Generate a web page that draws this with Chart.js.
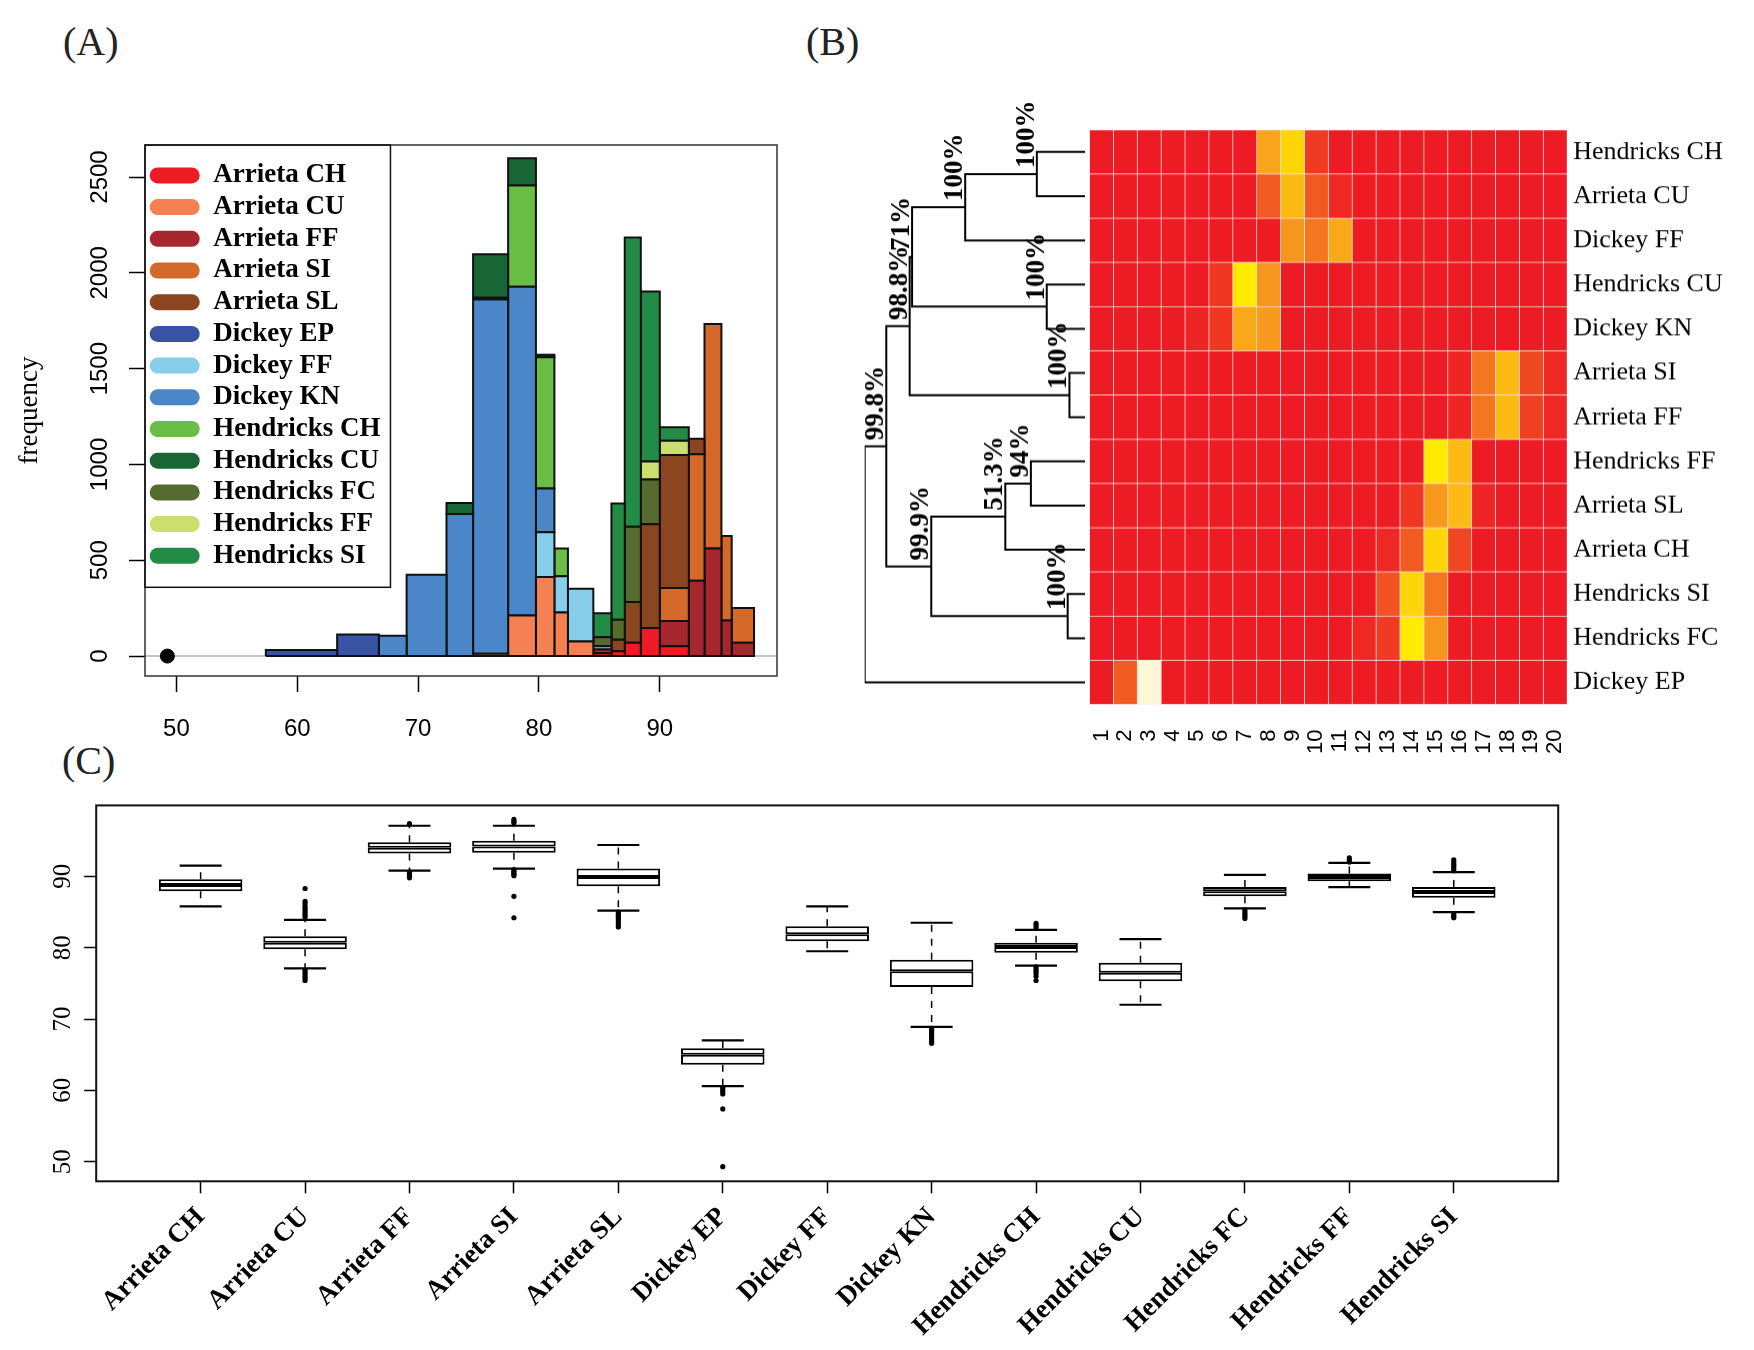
<!DOCTYPE html>
<html>
<head>
<meta charset="utf-8">
<script src="https://cdn.jsdelivr.net/npm/chart.js@4.4.0/dist/chart.umd.min.js"></script>
<style>
  body { margin: 0; background: #fff; width: 1754px; height: 1350px; position: relative; overflow: hidden; }
  .panel { position: absolute; }
  .tag { position: absolute; font-family: 'Liberation Serif', 'Times New Roman', serif; font-size: 40px; line-height: 1; color: #222; }
</style>
</head>
<body>
<div class="tag" style="left:63px;top:22px">(A)</div>
<div class="tag" style="left:806px;top:22px">(B)</div>
<div class="tag" style="left:62px;top:741px">(C)</div>

<div class="panel" style="left:0;top:0;width:800px;height:760px"><canvas id="histo"></canvas></div>
<div class="panel" style="left:840px;top:100px;width:250px;height:673.6px"><canvas id="dendro"></canvas></div>
<div class="panel" style="left:1080px;top:100px;width:674px;height:673.6px"><canvas id="heat"></canvas></div>
<div class="panel" style="left:0;top:780px;width:1600px;height:570px"><canvas id="boxes"></canvas></div>

<script>
const SERIF = "'Liberation Serif', 'Times New Roman', serif";
const SANS = "'Liberation Sans', Arial, sans-serif";
Chart.defaults.color = '#000';
Chart.defaults.animation = false;
Chart.defaults.plugins.tooltip.enabled = false;

// ---- (A) pitch speed histogram ----
const pitchNames = ['Arrieta CH', 'Arrieta CU', 'Arrieta FF', 'Arrieta SI', 'Arrieta SL',
  'Dickey EP', 'Dickey FF', 'Dickey KN', 'Hendricks CH', 'Hendricks CU',
  'Hendricks FC', 'Hendricks FF', 'Hendricks SI'];
const pitchColors = ['#ed1c24', '#f58054', '#a6272d', '#d5692a', '#8b4520',
  '#3953a4', '#87ceeb', '#4a86c8', '#6abd45', '#186535',
  '#566b30', '#cbdf6d', '#228b45'];
const binEdges = [57.4, 63.3, 66.75, 69.05, 72.35, 74.55, 77.45, 79.75, 81.28, 82.4,
  84.5, 86.0, 87.1, 88.43, 90.0, 92.4, 93.7, 95.1, 95.95, 97.8];
const countsArrietaCH   = [0, 0, 0, 0, 0, 0, 0, 0, 0, 0, 15, 25, 70, 146, 51, 0, 0, 0, 0];
const countsArrietaCU   = [0, 0, 0, 0, 0, 12, 212, 412, 227, 76, 0, 0, 0, 0, 0, 0, 0, 0, 0];
const countsArrietaFF   = [0, 0, 0, 0, 0, 0, 0, 0, 0, 0, 0, 0, 0, 0, 132, 393, 561, 185, 70];
const countsArrietaSI   = [0, 0, 0, 0, 0, 0, 0, 0, 0, 0, 0, 0, 0, 0, 172, 660, 1172, 442, 181];
const countsArrietaSL   = [0, 0, 0, 0, 0, 0, 0, 0, 0, 0, 19, 60, 212, 542, 694, 81, 0, 0, 0];
const countsDickeyEP    = [32, 113, 0, 0, 0, 0, 0, 0, 0, 0, 0, 0, 0, 0, 0, 0, 0, 0, 0];
const countsDickeyFF    = [0, 0, 0, 0, 0, 0, 0, 234, 189, 275, 17, 0, 0, 0, 0, 0, 0, 0, 0];
const countsDickeyKN    = [0, 0, 106, 425, 741, 1849, 1715, 229, 0, 0, 0, 0, 0, 0, 0, 0, 0, 0, 0];
const countsHendricksCH = [0, 0, 0, 0, 0, 9, 529, 684, 145, 0, 0, 0, 0, 0, 0, 0, 0, 0, 0];
const countsHendricksCU = [0, 0, 0, 0, 58, 227, 142, 13, 0, 0, 0, 0, 0, 0, 0, 0, 0, 0, 0];
const countsHendricksFC = [0, 0, 0, 0, 0, 0, 0, 0, 0, 0, 47, 104, 393, 234, 0, 0, 0, 0, 0];
const countsHendricksFF = [0, 0, 0, 0, 0, 0, 0, 0, 0, 0, 0, 0, 0, 93, 75, 0, 0, 0, 0];
const countsHendricksSI = [0, 0, 0, 0, 0, 0, 0, 0, 0, 0, 125, 607, 1509, 888, 70, 0, 0, 0, 0];
const pitchCounts = [countsArrietaCH, countsArrietaCU, countsArrietaFF, countsArrietaSI, countsArrietaSL,
  countsDickeyEP, countsDickeyFF, countsDickeyKN, countsHendricksCH, countsHendricksCU,
  countsHendricksFC, countsHendricksFF, countsHendricksSI];
const histXTicks = [50, 60, 70, 80, 90];
const histYTicks = [0, 500, 1000, 1500, 2000, 2500];
const histOutlier = 49.25;

// ---- (B) dendrogram + heatmap ----
const heatRows = ['Hendricks CH', 'Arrieta CU', 'Dickey FF', 'Hendricks CU', 'Dickey KN',
  'Arrieta SI', 'Arrieta FF', 'Hendricks FF', 'Arrieta SL', 'Arrieta CH',
  'Hendricks SI', 'Hendricks FC', 'Dickey EP'];
const heatCols = ['1', '2', '3', '4', '5', '6', '7', '8', '9', '10',
  '11', '12', '13', '14', '15', '16', '17', '18', '19', '20'];
const heatHendricksCH = [0, 0, 0, 0, 0, 0, 0, .5, .72, .1, 0, 0, 0, 0, 0, 0, 0, 0, 0, 0];
const heatArrietaCU   = [0, 0, 0, 0, 0, 0, 0, .2, .62, .2, .04, 0, 0, 0, 0, 0, 0, 0, 0, 0];
const heatDickeyFF    = [0, 0, 0, 0, 0, 0, 0, 0, .42, .32, .52, 0, 0, 0, 0, 0, 0, 0, 0, 0];
const heatHendricksCU = [0, 0, 0, 0, 0, .09, .8, .42, 0, 0, 0, 0, 0, 0, 0, 0, 0, 0, 0, 0];
const heatDickeyKN    = [0, 0, 0, 0, .03, .09, .52, .44, 0, 0, 0, 0, 0, 0, 0, 0, 0, 0, 0, 0];
const heatArrietaSI   = [0, 0, 0, 0, 0, 0, 0, 0, 0, 0, 0, 0, 0, 0, 0, .03, .32, .62, .14, .04];
const heatArrietaFF   = [0, 0, 0, 0, 0, 0, 0, 0, 0, 0, 0, 0, 0, 0, 0, .03, .32, .62, .12, .04];
const heatHendricksFF = [0, 0, 0, 0, 0, 0, 0, 0, 0, 0, 0, 0, 0, 0, .8, .62, 0, 0, 0, 0];
const heatArrietaSL   = [0, 0, 0, 0, 0, 0, 0, 0, 0, 0, 0, 0, 0, .09, .43, .62, .03, 0, 0, 0];
const heatArrietaCH   = [0, 0, 0, 0, 0, 0, 0, 0, 0, 0, 0, 0, .04, .2, .72, .14, 0, 0, 0, 0];
const heatHendricksSI = [0, 0, 0, 0, 0, 0, 0, 0, 0, 0, 0, 0, .18, .72, .32, 0, 0, 0, 0, 0];
const heatHendricksFC = [0, 0, 0, 0, 0, 0, 0, 0, 0, 0, 0, .04, .1, .8, .42, 0, 0, 0, 0, 0];
const heatDickeyEP    = [0, .2, 1, 0, 0, 0, 0, 0, 0, 0, 0, 0, 0, 0, 0, 0, 0, 0, 0, 0];
const heatValues = [heatHendricksCH, heatArrietaCU, heatDickeyFF, heatHendricksCU, heatDickeyKN,
  heatArrietaSI, heatArrietaFF, heatHendricksFF, heatArrietaSL, heatArrietaCH,
  heatHendricksSI, heatHendricksFC, heatDickeyEP];
// hclust-style merges: negative = row (leaf), positive = earlier merge
const dendroMerges = [[-1, -2], [1, -3], [-4, -5], [2, 3], [-6, -7], [4, 5],
  [-8, -9], [7, -10], [-11, -12], [8, 9], [6, 10], [11, -13]];
const dendroHeights = [0.219, 0.544, 0.174, 0.785, 0.071, 0.796, 0.246, 0.362, 0.079, 0.698, 0.902, 1.0];
const dendroLabels = ['100%', '100%', '100%', '71%', '100%', '98.8%', '94%', '51.3%', '100%', '99.9%', '99.8%', ''];

// ---- (C) boxplots ----
const boxNames = pitchNames;
const boxLow    = [85.8, 77.1, 90.8, 91.1, 85.2, 60.6, 79.5, 68.9, 77.5, 72.0, 85.5, 88.5, 85.0];
const boxQ1     = [87.9, 79.8, 93.2, 93.3, 88.6, 63.6, 80.9, 74.5, 79.3, 75.3, 87.2, 89.3, 87.0];
const boxMedian = [88.8, 80.7, 94.0, 94.2, 89.9, 65.0, 81.9, 76.7, 80.1, 76.5, 87.9, 89.9, 87.8];
const boxQ3     = [89.6, 81.6, 94.8, 95.0, 91.1, 65.9, 83.0, 78.3, 80.7, 77.9, 88.5, 90.4, 88.5];
const boxHigh   = [91.5, 83.9, 97.1, 97.1, 94.4, 67.0, 85.8, 83.5, 82.5, 81.2, 90.2, 91.9, 90.6];
const boxOutliers = [
  [],
  [88.3, 86.5, 86.2, 85.8, 85.5, 85.2, 84.9, 84.6, 84.3, 76.9, 76.6, 76.3, 76.0, 75.7, 75.4],
  [97.4, 97.3, 90.6, 90.4, 90.2, 90.0, 89.8],
  [98.0, 97.7, 97.5, 90.9, 90.7, 90.5, 90.3, 90.1, 87.2, 84.2],
  [85.0, 84.7, 84.4, 84.1, 83.8, 83.5, 83.2, 82.9],
  [60.4, 60.1, 59.8, 59.5, 57.4, 49.3],
  [],
  [68.7, 68.4, 68.1, 67.8, 67.5, 67.2, 66.9, 66.6],
  [83.4, 83.1, 82.8, 77.3, 77.0, 76.7, 76.4, 76.0, 75.4],
  [],
  [85.3, 85.0, 84.7, 84.4, 84.1],
  [92.6, 92.3, 92.0],
  [92.3, 92.0, 91.7, 91.4, 91.1, 90.8, 84.7, 84.4, 84.2]
];
const boxYTicks = [50, 60, 70, 80, 90];

// ---------- helpers / plugins ----------
const framePlugin = {
  id: 'frame',
  afterDatasetsDraw(chart, args, opts) {
    const { ctx, chartArea: a } = chart;
    ctx.save();
    ctx.strokeStyle = opts.color || '#000';
    ctx.lineWidth = opts.width || 1.5;
    ctx.strokeRect(a.left, a.top, a.right - a.left, a.bottom - a.top);
    ctx.restore();
  }
};

// legend sits inside the plot: pin it to the chart area top and draw its box
const legendBoxPlugin = {
  id: 'legendBox',
  beforeDraw(chart) {
    const lg = chart.legend;
    const shift = chart.chartArea.top - lg.top;
    if (shift !== 0) {
      lg.top += shift;
      lg.bottom += shift;
      (lg.legendHitBoxes || []).forEach(h => { h.top += shift; });
    }
  },
  afterDraw(chart) {
    const lg = chart.legend;
    const hb = lg.legendHitBoxes;
    if (!hb || !hb.length) return;
    const last = hb[hb.length - 1];
    const { ctx } = chart;
    ctx.save();
    ctx.strokeStyle = '#111';
    ctx.lineWidth = 1.5;
    ctx.strokeRect(lg.left, lg.top, lg.width, last.top + last.height + 18 - lg.top);
    ctx.restore();
  }
};

const heatStops = [
  [0, [237, 28, 36]], [0.1, [239, 58, 36]], [0.2, [241, 90, 34]], [0.3, [243, 112, 33]],
  [0.4, [247, 146, 30]], [0.5, [249, 165, 27]], [0.6, [251, 180, 22]], [0.7, [253, 208, 11]],
  [0.8, [255, 235, 0]], [1.0, [253, 248, 216]]
];
function heatColor(v) {
  for (let i = 1; i < heatStops.length; i++) {
    const [v1, c1] = heatStops[i];
    const [v0, c0] = heatStops[i - 1];
    if (v <= v1) {
      const t = (v - v0) / (v1 - v0);
      const c = c0.map((x, k) => Math.round(x + (c1[k] - x) * t));
      return `rgb(${c[0]},${c[1]},${c[2]})`;
    }
  }
  return 'rgb(253,248,216)';
}

// ---------- (A) ----------
function histSegments() {
  const out = [];
  for (let b = 0; b < binEdges.length - 1; b++) {
    let base = 0;
    pitchCounts.forEach((counts, s) => {
      const c = counts[b];
      if (!c) return;
      const x0 = binEdges[b], x1 = binEdges[b + 1], top = base + c;
      out.push({
        data: [{ x: x0, y: base }, { x: x0, y: top }, { x: x1, y: top }, { x: x1, y: base }, { x: x0, y: base }],
        showLine: true, fill: 'shape',
        backgroundColor: pitchColors[s], borderColor: '#111', borderWidth: 2,
        pointRadius: 0, order: 1
      });
      base = top;
    });
  }
  return out;
}

new Chart(document.getElementById('histo'), {
  type: 'scatter',
  data: {
    datasets: [
      ...histSegments(),
      {
        data: [{ x: 47.4, y: 0 }, { x: 99.7, y: 0 }],
        showLine: true, borderColor: '#c4c4c4', borderWidth: 2, pointRadius: 0, order: 5
      },
      {
        data: [{ x: histOutlier, y: 0 }],
        pointRadius: 7, backgroundColor: '#000', borderColor: '#000', order: 0
      }
    ]
  },
  options: {
    responsive: true, maintainAspectRatio: false,
    layout: { padding: { left: 0, top: 145, right: 23, bottom: 0 } },
    plugins: {
      frame: { color: '#333', width: 1.5 },
      legend: {
        position: 'chartArea', align: 'start',
        title: { display: true, text: '', font: { size: 1 }, padding: { top: 11, bottom: 0 } },
        onClick: null,
        labels: {
          boxWidth: 50, boxHeight: 16, padding: 4.7,
          useBorderRadius: true, borderRadius: 8,
          color: '#000',
          font: { family: SERIF, size: 27, weight: 'bold' },
          generateLabels: () => pitchNames.map((n, i) => ({
            text: n, fillStyle: pitchColors[i], strokeStyle: pitchColors[i],
            lineWidth: 0, hidden: false, borderRadius: 8, fontColor: '#000'
          }))
        }
      }
    },
    scales: {
      x: {
        type: 'linear', min: 47.4, max: 99.7,
        afterBuildTicks: s => { s.ticks = histXTicks.map(v => ({ value: v })); },
        afterFit: s => { s.height = 84; },
        grid: { drawOnChartArea: false, tickLength: 16, tickColor: '#000', tickWidth: 1.5 },
        border: { display: false },
        ticks: { font: { family: SANS, size: 24 }, color: '#000', padding: 23, maxRotation: 0 }
      },
      y: {
        min: -104, max: 2667,
        afterBuildTicks: s => { s.ticks = histYTicks.map(v => ({ value: v })); },
        afterFit: s => { s.width = 145; },
        grid: { drawOnChartArea: false, tickLength: 16, tickColor: '#000', tickWidth: 1.5 },
        border: { display: false },
        ticks: {
          callback: v => String(v),
          font: { family: SANS, size: 24 }, color: '#000',
          minRotation: 90, maxRotation: 90, crossAlign: 'center', padding: 2
        },
        title: { display: true, text: 'frequency', font: { family: SERIF, size: 27 }, color: '#000', padding: { top: 14, bottom: 0 } }
      }
    }
  },
  plugins: [framePlugin, legendBoxPlugin]
});

// ---------- (B) dendrogram ----------
function dendroNodes() {
  const nodes = [];
  const pos = ref => ref < 0 ? { y: -ref, h: 0 } : nodes[ref - 1];
  dendroMerges.forEach(([a, b], i) => {
    const pa = pos(a), pb = pos(b);
    nodes.push({ y: (pa.y + pb.y) / 2, h: dendroHeights[i], a: pa, b: pb, label: dendroLabels[i] });
  });
  return nodes;
}
const dNodes = dendroNodes();

const dendroLabelPlugin = {
  id: 'dendroLabels',
  afterDatasetsDraw(chart) {
    const { ctx, scales: { x, y } } = chart;
    ctx.save();
    ctx.fillStyle = '#000';
    ctx.font = `bold 27px ${SERIF}`;
    ctx.textAlign = 'left';
    ctx.textBaseline = 'alphabetic';
    dNodes.forEach(n => {
      if (!n.label) return;
      ctx.save();
      ctx.translate(x.getPixelForValue(n.h) - 3, y.getPixelForValue(n.y) - 6);
      ctx.rotate(-Math.PI / 2);
      ctx.fillText(n.label, 0, 0);
      ctx.restore();
    });
    ctx.restore();
  }
};

new Chart(document.getElementById('dendro'), {
  type: 'scatter',
  data: {
    datasets: dNodes.map(n => ({
      data: [{ x: n.a.h, y: n.a.y }, { x: n.h, y: n.a.y }, { x: n.h, y: n.b.y }, { x: n.b.h, y: n.b.y }],
      showLine: true, borderColor: '#000', borderWidth: 2, pointRadius: 0, fill: false
    }))
  },
  options: {
    responsive: true, maintainAspectRatio: false,
    layout: { padding: { left: 24.7, right: 4.9, top: 29.8, bottom: 70 } },
    plugins: { legend: { display: false } },
    scales: {
      x: { type: 'linear', min: 0, max: 1, reverse: true, display: false },
      y: { type: 'linear', min: 0.5, max: 13.5, reverse: true, display: false }
    }
  },
  plugins: [dendroLabelPlugin]
});

// ---------- (B) heatmap ----------
new Chart(document.getElementById('heat'), {
  type: 'bar',
  data: {
    labels: heatRows,
    datasets: heatCols.map((c, j) => ({
      data: heatRows.map(() => 1),
      backgroundColor: heatRows.map((r, i) => heatColor(heatValues[i][j])),
      borderColor: 'rgba(255,205,205,0.55)', borderWidth: 0.7, borderSkipped: false,
      barPercentage: 1, categoryPercentage: 1
    }))
  },
  options: {
    indexAxis: 'y',
    responsive: true, maintainAspectRatio: false,
    layout: { padding: { left: 9.5, right: 0, top: 29.8, bottom: 0 } },
    plugins: { legend: { display: false } },
    scales: {
      x: {
        type: 'linear', stacked: true, min: 0, max: 20,
        afterBuildTicks: s => { s.ticks = heatCols.map((c, j) => ({ value: j + 0.5 })); },
        afterFit: s => { s.height = 70; },
        grid: { display: false, drawTicks: true, tickLength: 22 }, border: { display: false },
        ticks: {
          callback: (v, i) => heatCols[i], autoSkip: false,
          minRotation: 90, maxRotation: 90, padding: 3,
          font: { family: SANS, size: 22 }, color: '#000'
        }
      },
      y: {
        stacked: true, position: 'right',
        afterFit: s => { s.width = 186.8; },
        grid: { display: false, drawTicks: false }, border: { display: false },
        ticks: { autoSkip: false, padding: 6, font: { family: SERIF, size: 26 }, color: '#000' }
      }
    }
  }
});

// ---------- (C) boxplots ----------
const boxX = boxNames.map((n, i) => i + 1);
const whiskerData = [];
boxX.forEach((x, i) => {
  whiskerData.push({ x, y: boxQ3[i] }, { x, y: boxHigh[i] }, { x, y: null },
    { x, y: boxQ1[i] }, { x, y: boxLow[i] }, { x, y: null });
});
const capData = [];
boxX.forEach((x, i) => capData.push({ x, y: boxHigh[i] }, { x, y: boxLow[i] }));
const outlierData = [];
boxX.forEach((x, i) => boxOutliers[i].forEach(v => outlierData.push({ x, y: v })));

new Chart(document.getElementById('boxes'), {
  type: 'bar',
  data: {
    datasets: [
      {
        type: 'bar', stack: 'box', order: 2,
        data: boxX.map((x, i) => ({ x, y: [boxQ1[i], boxMedian[i]] })),
        backgroundColor: '#fff', borderColor: '#000', borderWidth: 2, borderSkipped: false,
        categoryPercentage: 0.8, barPercentage: 1
      },
      {
        type: 'bar', stack: 'box', order: 2,
        data: boxX.map((x, i) => ({ x, y: [boxMedian[i], boxQ3[i]] })),
        backgroundColor: '#fff', borderColor: '#000', borderWidth: 2, borderSkipped: false,
        categoryPercentage: 0.8, barPercentage: 1
      },
      {
        type: 'line', order: 3, data: whiskerData, spanGaps: false,
        borderColor: '#000', borderWidth: 1.5, borderDash: [7, 7], pointRadius: 0, fill: false
      },
      {
        type: 'scatter', order: 1, data: capData,
        pointStyle: 'line', pointRadius: 21, borderColor: '#000', borderWidth: 2.2
      },
      {
        type: 'scatter', order: 0, data: outlierData,
        pointRadius: 2.6, backgroundColor: '#000', borderColor: '#000', borderWidth: 0
      }
    ]
  },
  options: {
    responsive: true, maintainAspectRatio: false,
    layout: { padding: { left: 0, top: 25.4, right: 41.8, bottom: 0 } },
    plugins: { legend: { display: false }, frame: { color: '#111', width: 2 } },
    scales: {
      x: {
        type: 'linear', min: 0, max: 14, offset: false, stacked: true,
        afterBuildTicks: s => { s.ticks = boxX.map(v => ({ value: v })); },
        afterFit: s => { s.height = 168.7; },
        grid: { drawOnChartArea: false, tickLength: 12, tickColor: '#000', tickWidth: 1.5, offset: false },
        border: { display: false },
        ticks: {
          callback: (v, i) => boxNames[i], autoSkip: false,
          minRotation: 45, maxRotation: 45, padding: 8,
          font: { family: SERIF, size: 27, weight: 'bold' }, color: '#000'
        }
      },
      y: {
        min: 47.25, max: 99.95, stacked: false,
        afterBuildTicks: s => { s.ticks = boxYTicks.map(v => ({ value: v })); },
        afterFit: s => { s.width = 96.2; },
        grid: { drawOnChartArea: false, tickLength: 12, tickColor: '#000', tickWidth: 1.5 },
        border: { display: false },
        ticks: { font: { family: SERIF, size: 25 }, color: '#000', minRotation: 90, maxRotation: 90, crossAlign: 'center', padding: 8 }
      }
    }
  },
  plugins: [framePlugin]
});
</script>
</body>
</html>
